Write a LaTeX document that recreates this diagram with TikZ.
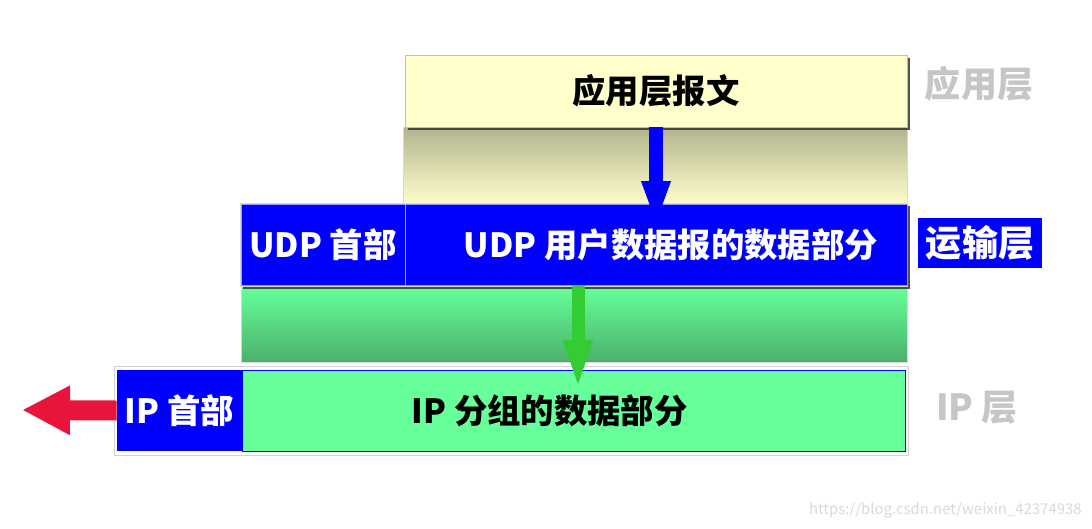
\documentclass[tikz,border=0pt]{standalone}
\usepackage{fontspec}
\setmainfont{Noto Sans CJK SC}
\usetikzlibrary{arrows.meta,shadows}

\definecolor{appyellow}{HTML}{FFFFCC}
\definecolor{olivegray}{HTML}{B3B38E}
\definecolor{udpblue}{HTML}{0000FF}
\definecolor{ipgreen}{HTML}{66FF99}
\definecolor{darkgreen}{HTML}{4CB06C}
\definecolor{arrowgreen}{HTML}{33CC33}
\definecolor{arrowred}{HTML}{E8143C}

\begin{document}
\begin{tikzpicture}[x=0.02cm, y=-0.02cm,
    every node/.style={font=\fontsize{19}{22}\selectfont\bfseries, inner sep=0pt},
    appbox/.style={draw=gray!50, fill=appyellow,
        drop shadow={shadow xshift=1.5pt, shadow yshift=-1.5pt, opacity=0.85, fill=black!80}},
    udpbox/.style={draw=blue!40!white, fill=udpblue, text=white},
    iphead/.style={fill=udpblue, text=white},
    ipdata/.style={draw=udpblue, fill=ipgreen},
    sidelabel/.style={text=gray!45, font=\fontsize{20.5}{22}\selectfont\bfseries},
    translab/.style={fill=udpblue, text=white, font=\fontsize{20.5}{22}\selectfont\bfseries},
    bluearrow/.style={udpblue, line width=0.28cm, -{Triangle[width=0.52cm, length=0.9cm]}},
    greenarrow/.style={arrowgreen, line width=0.26cm, -{Triangle[width=0.52cm, length=1.0cm]}},
    redarrow/.style={arrowred, line width=0.4cm, -{Triangle[width=0.92cm, length=0.96cm]}}
]
    \useasboundingbox (0,0) rectangle (1092,528);

    % shading under the application message
    \shade[top color=olivegray, bottom color=appyellow, draw=gray!30] (403,127) rectangle (907,205);

    % application layer
    \node[appbox, minimum width=10.04cm, minimum height=1.44cm] (app) at (656,91) {应用层报文};
    \node[sidelabel] (applab) at (979,84) {应用层};

    % green shading under the UDP datagram
    \shade[top color=ipgreen, bottom color=darkgreen, draw=gray!30] (241,287) rectangle (907,362);

    % transport layer
    \filldraw[draw=gray!30, fill=udpblue,
        drop shadow={shadow xshift=1.5pt, shadow yshift=-1.5pt, opacity=0.85, fill=black!80}]
        (240,203) rectangle (907,286);
    \node[udpbox, minimum width=3.28cm, minimum height=1.62cm] (udph) at (323,244.5) {UDP 首部};
    \node[udpbox, minimum width=10.04cm, minimum height=1.62cm] (udpd) at (656,244.5) {\hspace{0.6cm}UDP 用户数据报的数据部分};
    \node[translab, minimum width=2.48cm, minimum height=1.0cm] (translab) at (980,243) {运输层};

    % app message goes down into the UDP datagram
    \coordinate (btip) at (656,226);
    \draw[bluearrow] (app.south) -- (btip);

    % IP layer
    \filldraw[draw=gray!35, fill=white] (114,366) rectangle (908,455);
    \node[iphead, minimum width=2.5cm, minimum height=1.62cm] (iph) at (179.5,410.5) {IP 首部};
    \node[ipdata, minimum width=13.26cm, minimum height=1.62cm] (ipd) at (573.5,410.5) {IP 分组的数据部分\kern0.95cm};
    \node[sidelabel] (iplab) at (977,408) {IP 层};

    % UDP datagram goes down into the IP packet
    \coordinate (gtip) at (578,390);
    \draw[greenarrow] (udpd.south -| gtip) -- (gtip);

    % sent on
    \coordinate (rtip) at (22,410);
    \draw[redarrow] (iph.west) -- (rtip);

    \node[font=\fontsize{8.5}{10}\selectfont, text=black!15, anchor=east] (mark) at (1082,510) {https://blog.csdn.net/weixin\_42374938};
\end{tikzpicture}
\end{document}
